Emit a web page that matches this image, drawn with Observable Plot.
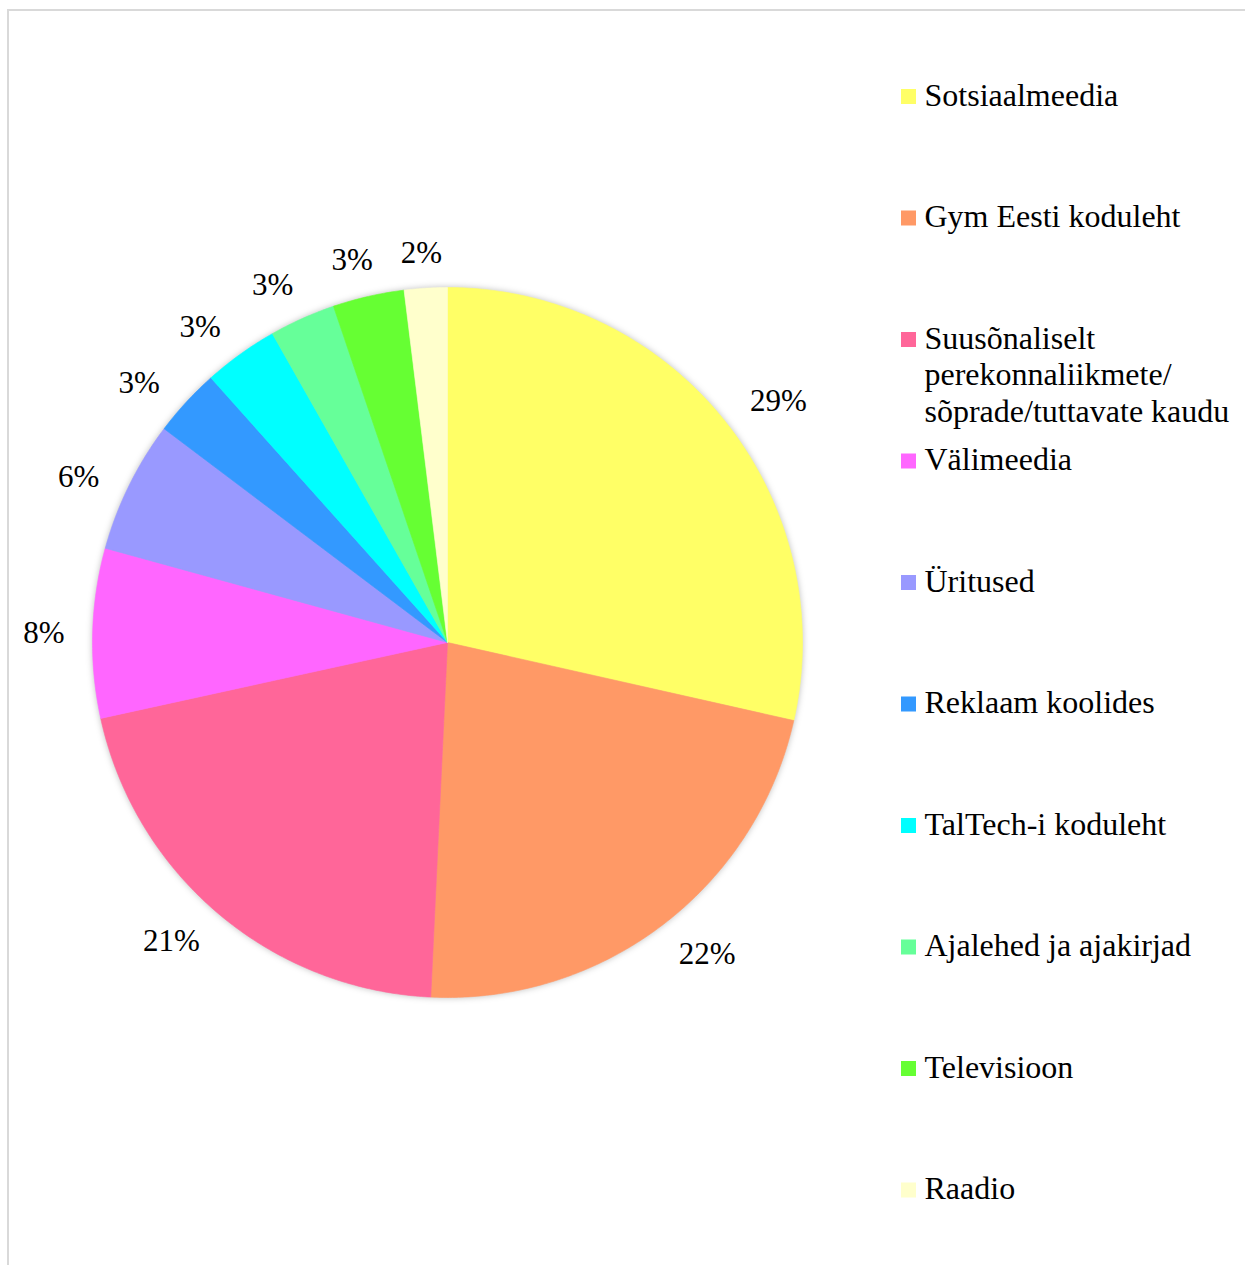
<!DOCTYPE html>
<html>
<head>
<meta charset="utf-8">
<script src="https://cdn.jsdelivr.net/npm/d3@7"></script>
<script src="https://cdn.jsdelivr.net/npm/@observablehq/plot@0.6"></script>
<style>
  html, body { margin: 0; padding: 0; background: #fff; overflow: hidden; }
  #wrap { position: relative; width: 1245px; height: 1265px; }
  #frame { position: absolute; left: 7px; top: 9px; width: 1300px; height: 1300px;
           border-left: 2px solid #d9d9d9; border-top: 2px solid #d9d9d9; pointer-events: none; }
  svg { display: block; }
</style>
</head>
<body>
<div id="wrap"><div id="frame"></div></div>
<script>
const categories = [
  "Sotsiaalmeedia",
  "Gym Eesti koduleht",
  "Suusõnaliselt perekonnaliikmete/ sõprade/tuttavate kaudu",
  "Välimeedia",
  "Üritused",
  "Reklaam koolides",
  "TalTech-i koduleht",
  "Ajalehed ja ajakirjad",
  "Televisioon",
  "Raadio"
];
const legendTexts = [
  "Sotsiaalmeedia",
  "Gym Eesti koduleht",
  "Suusõnaliselt\nperekonnaliikmete/\nsõprade/tuttavate kaudu",
  "Välimeedia",
  "Üritused",
  "Reklaam koolides",
  "TalTech-i koduleht",
  "Ajalehed ja ajakirjad",
  "Televisioon",
  "Raadio"
];
const values = [28.5, 22.2, 20.8, 7.7, 6.0, 3.1, 3.4, 3.0, 3.25, 1.95];
const percentLabels = ["29%", "22%", "21%", "8%", "6%", "3%", "3%", "3%", "3%", "2%"];
const colors = ["#FFFF66", "#FF9966", "#FF6699", "#FF66FF", "#9999FF", "#3399FF", "#00FFFF", "#66FF99", "#66FF33", "#FFFFCC"];

// layout
const W = 1245, H = 1265;
const cx = 447, cy = 642, R = 355;
const legendFont = 32, labelFont = 31;
const font = "'Liberation Serif', 'Times New Roman', serif";
const legendX = 901, swatch = 15, legendTextX = 924, rowY0 = 96.5, rowStep = 121.5, legendLineHeight = 1.14;

const data = categories.map((c, i) => ({cat: c, value: values[i], label: percentLabels[i], legend: legendTexts[i], idx: i}));
const arcs = d3.pie().sort(null).value(d => d.value)(data);

const slicePts = [];
for (const a of arcs) {
  const n = Math.max(2, Math.ceil((a.endAngle - a.startAngle) / (Math.PI / 360)));
  slicePts.push({cat: a.data.cat, x: cx, y: cy});
  for (let i = 0; i <= n; i++) {
    const ang = a.startAngle + (a.endAngle - a.startAngle) * i / n;
    slicePts.push({cat: a.data.cat, x: cx + R * Math.sin(ang), y: cy - R * Math.cos(ang)});
  }
  slicePts.push({cat: a.data.cat, x: cx, y: cy});
}

// "best fit"-like label placement outside the pie
const labelPts = arcs.map(a => {
  let mid = (a.startAngle + a.endAngle) / 2;
  mid += (2.6 * Math.PI / 180) * Math.sin(2 * mid);
  const s = Math.sin(mid), c = Math.cos(mid);
  const tw = ((a.data.label.length - 1) * 0.5 + 0.833) * labelFont;
  const r = R + 28 + Math.abs(s) * tw / 2 + Math.abs(c) * 6;
  return {label: a.data.label, x: cx + r * s, y: cy - r * c};
});

const legendRows = data.map((d, i) => ({...d, yc: rowY0 + i * rowStep}));
const firstLineDy = 0.71 * legendLineHeight * legendFont; // Plot's top line anchor offset
const baselineBelowCenter = 8.8;

const chart = Plot.plot({
  width: W,
  height: H,
  margin: 0,
  x: {type: "linear", domain: [0, W], range: [0, W], axis: null},
  y: {type: "linear", domain: [0, H], range: [0, H], axis: null},
  color: {type: "ordinal", domain: categories, range: colors},
  style: {background: "transparent", fontFamily: font},
  marks: [
    Plot.line(slicePts, {x: "x", y: "y", z: "cat", fill: "cat", stroke: "cat", strokeWidth: 0.6, curve: "linear",
      imageFilter: "drop-shadow(0px 0px 3px rgba(0,0,0,0.25))"}),
    Plot.text(labelPts, {x: "x", y: "y", text: "label", fontSize: labelFont, fontFamily: font, fill: "#000", textAnchor: "middle"}),
    Plot.rect(legendRows, {x1: () => legendX, x2: () => legendX + swatch,
      y1: d => d.yc - swatch / 2, y2: d => d.yc + swatch / 2, fill: "cat"}),
    Plot.text(legendRows, {x: () => legendTextX, y: d => d.yc + baselineBelowCenter - firstLineDy, text: "legend",
      fontSize: legendFont, fontFamily: font, fill: "#000", textAnchor: "start", lineAnchor: "top", lineHeight: legendLineHeight})
  ]
});
document.getElementById("wrap").prepend(chart);
</script>
</body>
</html>
